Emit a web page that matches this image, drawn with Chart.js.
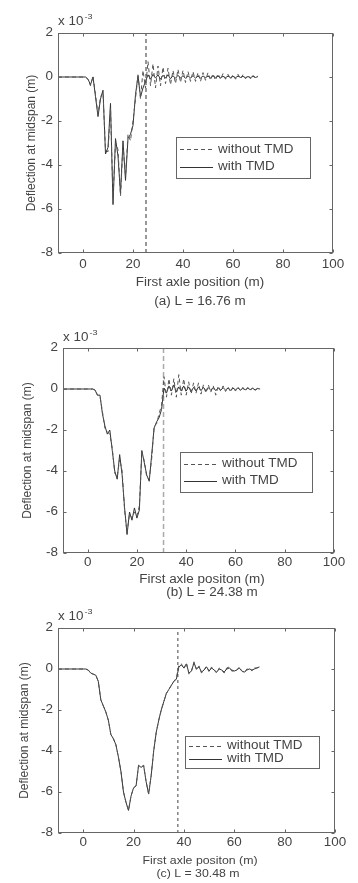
<!DOCTYPE html>
<html>
<head>
<meta charset="utf-8">
<script src="https://cdn.jsdelivr.net/npm/chart.js@4.4.1/dist/chart.umd.min.js"></script>
<style>
  html, body { margin: 0; padding: 0; background: #fff; }
  body { width: 358px; height: 883px; position: relative; overflow: hidden; }
  .panel { position: absolute; left: 0; width: 358px; }
</style>
</head>
<body>
<div class="panel" style="top:0;height:312px"><canvas id="chartA"></canvas></div>
<div class="panel" style="top:312px;height:288px"><canvas id="chartB"></canvas></div>
<div class="panel" style="top:600px;height:283px"><canvas id="chartC"></canvas></div>
<script>
// first axle position (m)
var positions = [-10,
    0, 1, 2, 3, 4, 5, 6, 7, 8, 9,
    10, 11, 12, 13, 14, 15, 16, 17, 18, 19,
    20, 21, 22, 23, 24, 25, 26, 27, 28, 29,
    30, 31, 32, 33, 34, 35, 36, 37, 38, 39,
    40, 41, 42, 43, 44, 45, 46, 47, 48, 49,
    50, 51, 52, 53, 54, 55, 56, 57, 58, 59,
    60, 61, 62, 63, 64, 65, 66, 67, 68, 69,
    70];

var xTicks = [0, 20, 40, 60, 80, 100];
var yTicks = [-8, -6, -4, -2, 0, 2];
var seriesLabels = ['without TMD', 'with TMD'];

// (a) L = 16.76 m  (deflection x 10^-3 m)
var withoutA = [0,
    0, 0, -0.1, -0.4, 0.05, -0.8, -1.7, -0.9, -0.7, -3.3,
    -3.4, -1.4, -5.5, -3.0, -3.3, -5.4, -3.1, -4.5, -2.6, -2.9,
    -2.0, -1.0, 0.1, -1.0, 0.3, -0.5, 0.7, -0.4, 0.6, -0.5,
    0.5, -0.4, 0.45, -0.3, 0.4, -0.35, 0.3, -0.3, 0.35, -0.25,
    0.3, -0.25, 0.25, -0.2, 0.25, -0.2, 0.2, -0.2, 0.2, -0.15,
    0.2, -0.15, 0.15, -0.15, 0.15, -0.1, 0.15, -0.1, 0.12, -0.1,
    0.1, -0.1, 0.12, -0.08, 0.1, -0.08, 0.08, -0.08, 0.08, -0.06,
    0.05];
var withA = [0,
    0, 0, -0.1, -0.35, 0, -0.9, -1.8, -1.0, -0.6, -3.5,
    -3.2, -1.2, -5.8, -2.8, -3.6, -5.3, -2.9, -4.7, -2.8, -2.6,
    -2.2, -0.8, 0.05, -0.9, -0.5, -0.2, 0.1, -0.1, 0.12, -0.05,
    0.1, -0.1, 0.08, -0.05, 0.1, -0.08, 0.06, -0.06, 0.08, -0.05,
    0.06, -0.06, 0.05, -0.04, 0.06, -0.05, 0.04, -0.05, 0.05, -0.03,
    0.04, -0.04, 0.05, -0.03, 0.04, -0.04, 0.03, -0.03, 0.04, -0.03,
    0.03, -0.03, 0.04, -0.02, 0.03, -0.03, 0.02, -0.03, 0.03, -0.02,
    0.02];
var exitA = 25.2;

// (b) L = 24.38 m
var withoutB = [0,
    0, 0, 0, -0.05, -0.3, -0.35, -1.1, -1.9, -2.1, -2.2,
    -2.9, -4.1, -4.3, -3.4, -4.0, -5.9, -7.0, -6.1, -6.3, -6.0,
    -6.2, -5.7, -3.1, -3.5, -4.3, -4.4, -3.4, -1.8, -1.7, -1.2,
    -0.8, 0.6, -0.4, 0.5, -0.3, 0.5, -0.4, 0.7, -0.3, 0.5,
    -0.3, 0.35, -0.25, 0.3, -0.2, 0.3, -0.25, 0.2, -0.2, 0.2,
    -0.15, 0.15, -0.3, 0.15, -0.1, 0.15, -0.12, 0.1, -0.15, 0.1,
    -0.1, 0.1, -0.08, 0.08, -0.1, 0.08, -0.06, 0.06, -0.08, 0.05,
    0.0];
var withB = [0,
    0, 0, 0, -0.05, -0.3, -0.3, -1.2, -1.8, -2.2, -2.0,
    -3.0, -4.0, -4.4, -3.2, -4.2, -5.8, -7.1, -6.0, -6.4, -5.8,
    -6.3, -5.9, -3.0, -3.6, -4.2, -4.5, -3.2, -1.9, -1.6, -1.4,
    -1.0, 0.05, -0.2, 0.15, -0.1, 0.2, -0.15, 0.1, -0.1, 0.15,
    -0.1, 0.1, -0.12, 0.08, -0.1, 0.1, -0.08, 0.08, -0.1, 0.06,
    -0.06, 0.08, -0.08, 0.05, -0.06, 0.06, -0.05, 0.05, -0.06, 0.04,
    -0.04, 0.05, -0.05, 0.03, -0.04, 0.04, -0.03, 0.03, -0.04, 0.02,
    0.0];
var exitB = 30.8;

// (c) L = 30.48 m
var withoutC = [0,
    0, 0, -0.05, -0.2, -0.25, -0.3, -0.6, -1.5, -1.8, -2.1,
    -2.5, -3.2, -3.4, -3.7, -4.3, -5.0, -6.0, -6.5, -6.9, -6.2,
    -5.8, -5.7, -4.7, -4.8, -4.7, -5.5, -6.1, -5.2, -4.0, -3.1,
    -2.5, -2.0, -1.6, -1.2, -1.0, -0.8, -0.6, -0.45, 0.2, 0.25,
    0.0, 0.3, -0.25, -0.1, 0.35, -0.05, 0.15, -0.2, -0.05, 0.15,
    -0.15, 0.1, -0.05, -0.2, 0.05, -0.05, -0.2, 0.05, 0.1, -0.1,
    -0.1, -0.05, 0.1, -0.1, -0.2, 0.0, 0.05, -0.1, 0.05, 0.05,
    0.1];
var withC = [0,
    0, 0, -0.05, -0.2, -0.25, -0.3, -0.6, -1.5, -1.8, -2.1,
    -2.5, -3.2, -3.4, -3.7, -4.3, -5.0, -6.0, -6.5, -6.9, -6.2,
    -5.8, -5.7, -4.7, -4.8, -4.7, -5.5, -6.1, -5.2, -4.0, -3.1,
    -2.5, -2.0, -1.6, -1.2, -1.0, -0.8, -0.6, -0.5, 0.1, 0.2,
    0.05, 0.25, -0.2, -0.1, 0.3, 0.0, 0.1, -0.15, -0.05, 0.1,
    -0.1, 0.05, -0.05, -0.15, 0.0, -0.05, -0.15, 0.0, 0.05, -0.05,
    -0.1, -0.05, 0.05, -0.1, -0.15, -0.05, 0.0, -0.05, 0.0, 0.05,
    0.1];
var exitC = 37.6;

var FONT = "'Liberation Sans', Arial, sans-serif";
var TEXT = '#444';
var STRETCH = 1.12; // the scanned figure is a little wider than it is tall

// horizontally stretched text, like the source scan
function wideText(ctx, str, x, y, align, size) {
    ctx.save();
    ctx.font = size + 'px ' + FONT;
    ctx.textBaseline = 'middle';
    ctx.textAlign = align;
    ctx.translate(x, y);
    ctx.scale(STRETCH, 1);
    ctx.fillText(str, 0, 0);
    var w = ctx.measureText(str).width * STRETCH;
    ctx.restore();
    return w;
}

// matlab style frame, inward ticks, labels and boxed legend
var matlabFrame = {
    id: 'matlabFrame',
    afterDraw: function(chart, args, o) {
        var ctx = chart.ctx, a = chart.chartArea;
        var x = chart.scales.x, y = chart.scales.y;
        ctx.save();
        ctx.strokeStyle = '#666';
        ctx.lineWidth = 1;
        var L = Math.round(a.left) + 0.5, R = Math.round(a.right) - 0.5;
        var T = Math.round(a.top) + 0.5, B = Math.round(a.bottom) - 0.5;
        ctx.strokeRect(L, T, R - L, B - T);
        ctx.beginPath();
        x.ticks.forEach(function(t) {
            var px = Math.round(x.getPixelForValue(t.value)) + 0.5;
            ctx.moveTo(px, B); ctx.lineTo(px, B - 3);
            ctx.moveTo(px, T); ctx.lineTo(px, T + 3);
        });
        y.ticks.forEach(function(t) {
            var py = Math.round(y.getPixelForValue(t.value)) + 0.5;
            ctx.moveTo(L, py); ctx.lineTo(L + 3, py);
            ctx.moveTo(R, py); ctx.lineTo(R - 3, py);
        });
        ctx.stroke();

        ctx.fillStyle = TEXT;
        // tick labels
        x.ticks.forEach(function(t) {
            wideText(ctx, String(t.value), x.getPixelForValue(t.value), a.bottom + o.tickDy, 'center', 12);
        });
        y.ticks.forEach(function(t) {
            wideText(ctx, String(t.value), a.left - 5, y.getPixelForValue(t.value), 'right', 12);
        });
        // exponent
        var w = wideText(ctx, 'x 10', a.left, a.top + o.expoDy, 'left', 12);
        wideText(ctx, '-3', a.left + w + 1, a.top + o.expoDy - 5, 'left', 8);
        // x title and caption
        wideText(ctx, o.xTitle, o.titleX, a.bottom + o.titleDy, 'center', o.labelSize);
        wideText(ctx, o.caption, o.captionX, a.bottom + o.captionDy, 'center', o.labelSize);
        // y title
        ctx.save();
        ctx.font = '12px ' + FONT;
        ctx.textAlign = 'center';
        ctx.textBaseline = 'middle';
        ctx.translate(o.yTitleX, (a.top + a.bottom) / 2);
        ctx.rotate(-Math.PI / 2);
        ctx.fillText('Deflection at midspan (m)', 0, 0);
        ctx.restore();

        // legend
        var lg = o.legend;
        var bx = a.left + lg.left, by = a.top + lg.top;
        ctx.fillStyle = '#fff';
        ctx.fillRect(bx, by, lg.width, lg.height);
        ctx.strokeStyle = '#666';
        ctx.strokeRect(Math.round(bx) + 0.5, Math.round(by) + 0.5, lg.width, lg.height);
        [0, 1].forEach(function(i) {
            var ds = chart.data.datasets[i];
            var ry = by + lg.height * (i === 0 ? 0.3 : 0.72);
            ctx.beginPath();
            ctx.strokeStyle = ds.borderColor;
            ctx.lineWidth = ds.borderWidth;
            ctx.setLineDash(ds.borderDash || []);
            ctx.moveTo(bx + 4, Math.round(ry) + 0.5);
            ctx.lineTo(bx + 37, Math.round(ry) + 0.5);
            ctx.stroke();
            ctx.setLineDash([]);
            ctx.fillStyle = TEXT;
            wideText(ctx, ds.label, bx + 42, ry, 'left', 12);
        });
        ctx.restore();
    }
};

function toPoints(values) {
    return positions.map(function(p, i) { return { x: p, y: values[i] }; });
}

function makeChart(id, without, withT, exitPos, lay) {
    var ctx = document.getElementById(id).getContext('2d');
    return new Chart(ctx, {
        type: 'line',
        data: {
            datasets: [{
                label: seriesLabels[0],
                data: toPoints(without),
                borderColor: '#555',
                borderWidth: 1,
                borderDash: [4, 3],
                pointRadius: 0,
                tension: 0
            }, {
                label: seriesLabels[1],
                data: toPoints(withT),
                borderColor: '#333',
                borderWidth: 1,
                pointRadius: 0,
                tension: 0
            }, {
                label: 'exit',
                data: [{ x: exitPos, y: yTicks[0] }, { x: exitPos, y: yTicks[yTicks.length - 1] }],
                borderColor: lay.exitColor,
                borderWidth: lay.exitWidth,
                borderDash: lay.exitDash,
                pointRadius: 0
            }]
        },
        options: {
            animation: false,
            responsive: true,
            maintainAspectRatio: false,
            devicePixelRatio: 1,
            layout: { padding: { top: lay.top, right: lay.right, left: 0, bottom: 0 } },
            plugins: {
                legend: { display: false },
                tooltip: { enabled: false },
                matlabFrame: lay.frame
            },
            scales: {
                x: {
                    type: 'linear',
                    min: -10,
                    max: 100,
                    afterBuildTicks: function(s) { s.ticks = xTicks.map(function(v) { return { value: v }; }); },
                    afterFit: function(s) { s.height = lay.xHeight; },
                    grid: { display: false, drawTicks: false },
                    border: { display: false },
                    ticks: { display: false }
                },
                y: {
                    type: 'linear',
                    min: -8,
                    max: 2,
                    afterBuildTicks: function(s) { s.ticks = yTicks.map(function(v) { return { value: v }; }); },
                    afterFit: function(s) { s.width = lay.yWidth; },
                    grid: { display: false, drawTicks: false },
                    border: { display: false },
                    ticks: { display: false }
                }
            }
        },
        plugins: [matlabFrame]
    });
}

document.addEventListener('DOMContentLoaded', function() {
    makeChart('chartA', withoutA, withA, exitA, {
        top: 33, right: 25, yWidth: 58, xHeight: 59,
        exitColor: '#333', exitWidth: 1, exitDash: [4, 3],
        frame: {
            tickDy: 12, expoDy: -11, titleDy: 30, captionDy: 49, titleX: 200, captionX: 200, yTitleX: 32,
            labelSize: 12,
            xTitle: 'First axle position (m)', caption: '(a) L = 16.76 m',
            legend: { left: 118, top: 104, width: 134, height: 41 }
        }
    });
    makeChart('chartB', withoutB, withB, exitB, {
        top: 36, right: 24, yWidth: 63, xHeight: 47,
        exitColor: '#aaa', exitWidth: 1.5, exitDash: [5, 3],
        frame: {
            tickDy: 10, expoDy: -10, titleDy: 27, captionDy: 40, titleX: 202, captionX: 212, yTitleX: 28,
            labelSize: 12,
            xTitle: 'First axle positon (m)', caption: '(b) L = 24.38 m',
            legend: { left: 117, top: 104, width: 132, height: 40 }
        }
    });
    makeChart('chartC', withoutC, withC, exitC, {
        top: 28, right: 23, yWidth: 58, xHeight: 50,
        exitColor: '#444', exitWidth: 1, exitDash: [3, 3],
        frame: {
            tickDy: 10, expoDy: -11, titleDy: 28, captionDy: 41, titleX: 200, captionX: 198, yTitleX: 25,
            labelSize: 11,
            xTitle: 'First axle positon (m)', caption: '(c) L = 30.48 m',
            legend: { left: 127, top: 108, width: 134, height: 32 }
        }
    });
});
</script>
</body>
</html>
